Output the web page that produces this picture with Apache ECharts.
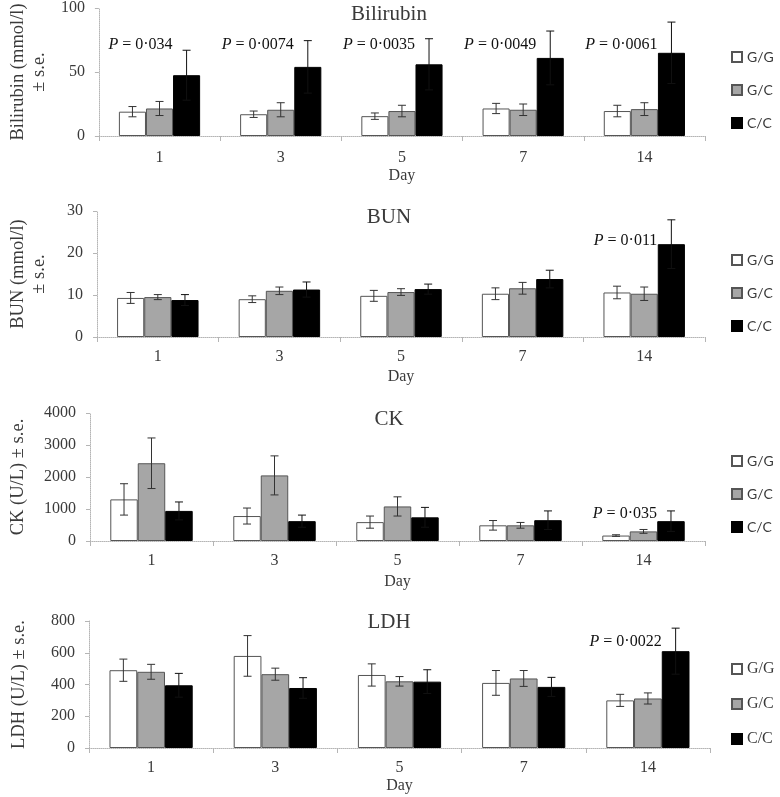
<!DOCTYPE html>
<html><head><meta charset="utf-8">
<script src="https://cdn.jsdelivr.net/npm/echarts@6/dist/echarts.min.js"></script>
</head>
<body style="margin:0;background:#fff">
<div id="c" style="width:780px;height:797px"></div>
<script>
const days = ['1', '3', '5', '7', '14'];
const groups = ['G/G', 'G/C', 'C/C'];

const biliGG = [19, 17, 15.5, 21.5, 19.5];
const biliGGse = [4, 2.5, 2.5, 4, 4.5];
const biliGC = [21.5, 20.5, 19.5, 20.5, 21];
const biliGCse = [5.5, 5.5, 4.5, 4.5, 5];
const biliCC = [47.5, 54, 56, 61, 65];
const biliCCse = [19.5, 20.5, 20, 21, 24];
const biliP = ['0·034', '0·0074', '0·0035', '0·0049', '0·0061'];

const bunGG = [9.3, 9.0, 9.8, 10.3, 10.6];
const bunGGse = [1.3, 0.8, 1.3, 1.4, 1.5];
const bunGC = [9.5, 11.0, 10.7, 11.6, 10.3];
const bunGCse = [0.6, 0.9, 0.8, 1.4, 1.6];
const bunCC = [8.8, 11.3, 11.4, 13.8, 22.1];
const bunCCse = [1.3, 1.8, 1.2, 2.1, 5.8];
const bunP = ['', '', '', '', '0·011'];

const ckGG = [1300, 780, 590, 490, 170];
const ckGGse = [490, 250, 190, 150, 25];
const ckGC = [2430, 2050, 1080, 490, 300];
const ckGCse = [790, 610, 300, 90, 60];
const ckCC = [940, 620, 740, 650, 620];
const ckCCse = [280, 190, 310, 290, 320];
const ckP = ['', '', '', '', '0·035'];

const ldhGG = [490, 580, 460, 410, 300];
const ldhGGse = [70, 128, 70, 78, 38];
const ldhGC = [480, 465, 420, 438, 312];
const ldhGCse = [47, 38, 30, 50, 35];
const ldhCC = [395, 378, 418, 385, 610];
const ldhCCse = [75, 65, 75, 60, 145];
const ldhP = ['', '', '', '', '0·0022'];

const yTicksBili = [0, 100, 50];
const yTicksBun = [0, 30, 10];
const yTicksCk = [0, 4000, 1000];
const yTicksLdh = [0, 800, 200];

const SERIF = '"Liberation Serif", "Times New Roman", serif';
const SANS = 'Lato, "Open Sans", sans-serif';
const TXT = '#3a3a3a';

const panels = [
  { title: 'Bilirubin', yName: 'Bilirubin (mmol/l)\n± s.e.', ticks: yTicksBili,
    vals: [biliGG, biliGC, biliCC], ses: [biliGGse, biliGCse, biliCCse], pv: biliP,
    grid: { left: 80, right: 75, top: 7, height: 129 }, titleY: 4, legendTop: 50,
    legendFont: SANS, pLevel: 71, yNameGap: 40, xLabMargin: 14, dayGap: 32 },
  { title: 'BUN', yName: 'BUN (mmol/l)\n± s.e.', ticks: yTicksBun,
    vals: [bunGG, bunGC, bunCC], ses: [bunGGse, bunGCse, bunCCse], pv: bunP,
    grid: { left: 89, right: 75, top: 211, height: 126 }, titleY: 207, legendTop: 253,
    legendFont: SANS, pLevel: 23, yNameGap: 47, xLabMargin: 12, dayGap: 32 },
  { title: 'CK', yName: 'CK (U/L) ± s.e.', ticks: yTicksCk,
    vals: [ckGG, ckGC, ckCC], ses: [ckGGse, ckGCse, ckCCse], pv: ckP,
    grid: { left: 89, right: 75, top: 413, height: 128 }, titleY: 409, legendTop: 454,
    legendFont: SANS, pLevel: 850, yNameGap: 61, xLabMargin: 12, dayGap: 33 },
  { title: 'LDH', yName: 'LDH (U/L) ± s.e.', ticks: yTicksLdh,
    vals: [ldhGG, ldhGC, ldhCC], ses: [ldhGGse, ldhGCse, ldhCCse], pv: ldhP,
    grid: { left: 89, right: 70, top: 621, height: 127 }, titleY: 612, legendTop: 661,
    legendFont: SERIF, pLevel: 667, yNameGap: 59, xLabMargin: 12, dayGap: 30 }
];

const barStyles = [
  { color: '#ffffff', borderColor: '#555', borderWidth: 1 },
  { color: '#a6a6a6', borderColor: '#555', borderWidth: 1 },
  { color: '#000000', borderColor: '#000', borderWidth: 1 }
];
const GAP = 0.33;

function errRender(k) {
  return function (params, api) {
    const cat = api.value(0), m = api.value(1), s = api.value(2);
    const cw = api.size([1, 0])[0];
    const bw = cw * (1 - GAP) / 3;
    const xc = api.coord([cat, m])[0] + (k - 1) * bw;
    const yt = api.coord([cat, m + s])[1];
    const yb = api.coord([cat, Math.max(m - s, 0)])[1];
    const hw = 4;
    const st = { stroke: k === 2 ? '#111' : '#333', lineWidth: 1 };
    return { type: 'group', children: [
      { type: 'line', shape: { x1: xc, y1: yt, x2: xc, y2: yb }, style: st },
      { type: 'line', shape: { x1: xc - hw, y1: yt, x2: xc + hw, y2: yt }, style: st },
      { type: 'line', shape: { x1: xc - hw, y1: yb, x2: xc + hw, y2: yb }, style: st }
    ] };
  };
}

function pRender(pv) {
  return function (params, api) {
    const cat = api.value(0);
    const cw = api.size([1, 0])[0];
    const bw = cw * (1 - GAP) / 3;
    const pt = api.coord([cat, api.value(1)]);
    return { type: 'text', x: pt[0] + bw - 14, y: pt[1], style: {
      text: '{i|P} = ' + pv[cat], fill: '#111', font: '16px ' + SERIF,
      align: 'right', verticalAlign: 'middle',
      rich: { i: { fontStyle: 'italic', fontFamily: SERIF, fontSize: 16, fill: '#111' } }
    } };
  };
}

const option = { backgroundColor: '#fff', animation: false,
  title: [], legend: [], grid: [], xAxis: [], yAxis: [], series: [] };

panels.forEach((p, pi) => {
  option.grid.push(p.grid);
  option.title.push({ text: p.title, left: 389, top: p.titleY, padding: 0, textAlign: 'center',
    textStyle: { fontFamily: SERIF, fontSize: 21, fontWeight: 'normal', color: TXT } });
  const serifLeg = p.legendFont === SERIF;
  option.legend.push({ data: groups, orient: 'vertical', left: 731, top: p.legendTop, padding: 0,
    itemWidth: 10, itemHeight: 10, itemGap: 19, icon: 'rect', selectedMode: false,
    textStyle: { fontFamily: p.legendFont, fontSize: serifLeg ? 16 : 14, color: TXT, lineHeight: 14 } });
  option.xAxis.push({ type: 'category', gridIndex: pi, data: days,
    name: 'Day', nameLocation: 'middle', nameGap: p.dayGap,
    nameTextStyle: { fontFamily: SERIF, fontSize: 16, color: TXT },
    axisLine: { lineStyle: { color: '#b5b5b5', type: 'dotted', width: 1 } },
    axisTick: { show: true, length: 5, lineStyle: { color: '#b5b5b5' } },
    axisLabel: { fontFamily: SERIF, fontSize: 16, color: TXT, margin: p.xLabMargin } });
  option.yAxis.push({ type: 'value', gridIndex: pi, min: p.ticks[0], max: p.ticks[1], interval: p.ticks[2],
    name: p.yName, nameLocation: 'middle', nameRotate: 90, nameGap: p.yNameGap,
    nameTextStyle: { fontFamily: SERIF, fontSize: 18.5, color: TXT, lineHeight: 21 },
    axisLine: { show: true, lineStyle: { color: '#b5b5b5', type: 'dotted', width: 1 } },
    axisTick: { show: true, length: 4, lineStyle: { color: '#b5b5b5' } },
    splitLine: { show: false },
    axisLabel: { fontFamily: SERIF, fontSize: 16, color: TXT, margin: 14,
      formatter: v => String(v) } });
  groups.forEach((g, k) => {
    option.series.push({ type: 'bar', name: g, xAxisIndex: pi, yAxisIndex: pi,
      data: p.vals[k], barGap: '0%', barCategoryGap: (GAP * 100) + '%',
      itemStyle: barStyles[k], silent: true });
  });
  groups.forEach((g, k) => {
    option.series.push({ type: 'custom', xAxisIndex: pi, yAxisIndex: pi, z: 5, silent: true,
      renderItem: errRender(k), encode: { x: 0, y: 1 },
      data: p.vals[k].map((m, i) => [i, m, p.ses[k][i]]) });
  });
  const pData = [];
  p.pv.forEach((t, i) => { if (t) pData.push([i, p.pLevel]); });
  option.series.push({ type: 'custom', xAxisIndex: pi, yAxisIndex: pi, z: 6, silent: true,
    renderItem: pRender(p.pv), encode: { x: 0, y: 1 }, data: pData });
});

const chart = echarts.init(document.getElementById('c'), null, { renderer: 'canvas' });
chart.setOption(option);
</script>
</body></html>
